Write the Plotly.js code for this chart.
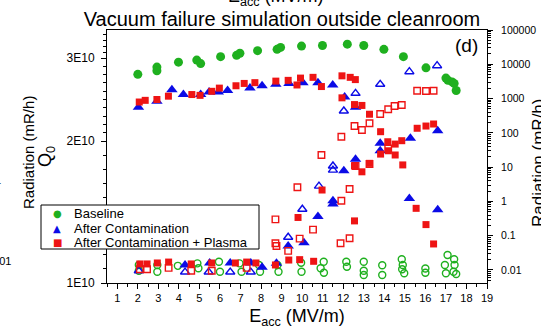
<!DOCTYPE html>
<html>
<head>
<meta charset="utf-8">
<script src="https://cdn.plot.ly/plotly-3.0.1.min.js"></script>
<style>
  html, body { margin: 0; padding: 0; background: #ffffff; }
  #chart { width: 541px; height: 329px; }
</style>
</head>
<body>
<div id="chart"></div>
<script>
// ---- Baseline ----
const baselineQ0E = [2.0, 2.93, 2.93, 3.98, 4.87, 5.06, 6.03, 6.81, 6.97, 7.83, 8.78, 8.95, 9.97, 10.99, 12.2, 13.0, 13.98, 14.93, 16.03, 17.0, 17.1, 17.3, 17.4, 17.5];
const baselineQ0 = [2.77e10, 2.87e10, 2.82e10, 2.94e10, 2.97e10, 2.92e10, 3.02e10, 3.04e10, 3.07e10, 3.11e10, 3.13e10, 3.16e10, 3.18e10, 3.19e10, 3.21e10, 3.19e10, 3.13e10, 3.02e10, 2.86e10, 2.72e10, 2.69e10, 2.67e10, 2.65e10, 2.56e10];
const baselineRadAE = [2.05, 2.95, 3.95, 4.9, 5.95, 6.95, 7.9, 8.8, 9.95, 11.05, 12.15, 13.0, 13.9, 14.85, 14.9, 16.0, 16.95, 17.08, 17.4, 17.42];
const baselineRadA = [0.014, 0.014, 0.0132, 0.0156, 0.0174, 0.0156, 0.014, 0.014, 0.0163, 0.0174, 0.0174, 0.0174, 0.0137, 0.0205, 0.014, 0.011, 0.014, 0.0273, 0.0205, 0.014];
const baselineRadBE = [2.05, 2.95, 4.95, 6.0, 7.05, 7.95, 8.85, 9.97, 10.9, 11.06, 12.18, 13.0, 13.0, 13.9, 14.87, 14.97, 16.0, 17.0, 17.37, 17.5];
const baselineRadB = [0.0095, 0.0089, 0.0112, 0.0089, 0.0089, 0.0089, 0.0089, 0.0089, 0.0112, 0.0083, 0.0124, 0.0095, 0.0071, 0.0071, 0.0105, 0.008, 0.0083, 0.008, 0.0089, 0.0076];

// ---- After Contamination ----
const contamQ0E = [2.03, 2.93, 3.66, 4.22, 5.06, 5.47, 5.92, 6.37, 7.46, 8.05, 8.72, 9.36, 10.04, 10.77, 11.49, 12.07, 12.6, 15.22, 16.6];
const contamQ0 = [2.36e10, 2.43e10, 2.57e10, 2.51e10, 2.51e10, 2.54e10, 2.54e10, 2.56e10, 2.59e10, 2.62e10, 2.64e10, 2.65e10, 2.66e10, 2.66e10, 2.63e10, 2.48e10, 2.36e10, 1.51e10, 1.43e10];
const contamRadAE = [4.3, 5.5, 6.5, 7.5, 8.05, 8.75, 9.32, 10.09, 10.77, 11.5, 11.5, 12.03, 12.6, 13.8, 13.8, 15.27, 16.6];
const contamRadA = [0.014, 0.016, 0.016, 0.016, 0.012, 0.0156, 0.05, 0.062, 0.36, 1.05, 0.84, 7.9, 16.9, 49.5, 30, 69, 115];
const contamRadBE = [2.05, 4.3, 5.45, 6.5, 7.5, 9.32, 10.01, 10.82, 11.5, 11.5, 12.03, 12.6, 13.8, 15.22, 16.57];
const contamRadB = [0.0095, 0.0087, 0.0087, 0.0087, 0.0087, 0.09, 0.59, 2.8, 10.8, 8.2, 434, 1422, 2606, 6080, 9100];

// ---- After Contamination + Plasma ----
const plasmaQ0E = [2.07, 2.36, 2.93, 3.49, 4.63, 5.03, 5.6, 5.97, 6.78, 7.18, 7.7, 8.72, 9.32, 9.75, 9.92, 10.53, 10.94, 11.94, 12.34, 12.59, 11.94, 12.55, 12.91, 13.28, 14.9, 15.55, 16.03, 16.4];
const plasmaQ0 = [2.42e10, 2.44e10, 2.45e10, 2.49e10, 2.51e10, 2.50e10, 2.55e10, 2.59e10, 2.62e10, 2.65e10, 2.66e10, 2.68e10, 2.69e10, 2.63e10, 2.72e10, 2.73e10, 2.61e10, 2.75e10, 2.73e10, 2.70e10, 2.47e10, 2.39e10, 2.38e10, 2.28e10, 1.78e10, 1.44e10, 1.33e10, 1.21e10];
const plasmaRadAE = [2.1, 2.45, 2.95, 3.5, 4.6, 5.6, 6.75, 7.3, 7.75, 8.7, 9.35, 9.88, 10.56, 9.8, 10.97, 12.55, 12.55, 12.91, 13.28, 13.82, 13.82, 14.2, 14.53, 14.17, 14.53, 14.85, 15.6, 16.03, 16.4];
const plasmaRadA = [0.015, 0.015, 0.016, 0.017, 0.015, 0.016, 0.016, 0.017, 0.016, 0.014, 0.0195, 0.02, 0.0179, 0.34, 2.15, 0.27, 11, 7.3, 12.9, 24, 108, 30, 22.6, 55, 47, 59, 136, 158, 181];
const plasmaRadBE = [2.1, 2.45, 3.5, 4.6, 5.6, 7.3, 8.7, 8.75, 8.7, 9.32, 9.77, 9.88, 10.53, 10.94, 11.91, 11.87, 11.91, 12.31, 12.31, 12.55, 12.6, 12.91, 13.28, 13.28, 13.8, 14.19, 14.5, 14.85, 14.19, 15.6, 16.03, 16.4];
const plasmaRadB = [0.0105, 0.0105, 0.0115, 0.0095, 0.0095, 0.0115, 0.30, 0.05, 0.06, 0.036, 2.58, 0.082, 0.15, 22.6, 1.05, 0.06, 77, 2.3, 0.084, 158, 10.8, 121, 190, 12.3, 355, 486, 607, 649, 35, 1695, 1663, 1695];

// ---- Axis labels ----
const xTicks = [1, 2, 3, 4, 5, 6, 7, 8, 9, 10, 11, 12, 13, 14, 15, 16, 17, 18, 19];
const q0Ticks = [1e10, 2e10, 3e10];
const q0TickText = ['1E10', '2E10', '3E10'];
const radTicks = [0.01, 0.1, 1, 10, 100, 1000, 10000, 100000];
const radTickText = ['0.01', '0.1', '1', '10', '100', '1000', '10000', '100000'];
const legendNames = ['Baseline', 'After Contamination', 'After Contamination + Plasma'];

const GREEN = '#1fb01f', BLUE = '#0b0be6', RED = '#ee1414';
const FONT = 'Liberation Sans, Arial, Helvetica, sans-serif';

// Q0 minor ticks: ten even (log-space) steps between labelled values
const q0Minor = [];
const q0Edges = [1e10, 2e10, 3e10, 4e10];
for (let i = 0; i < q0Edges.length - 1; i++) {
  const a = Math.log10(q0Edges[i]), b = Math.log10(q0Edges[i + 1]);
  for (let k = 1; k < 10; k++) q0Minor.push(Math.pow(10, a + (b - a) * k / 10));
}
// Radiation minor ticks: 2..9 in every decade
const radMinor = [];
for (let e = -3; e <= 4; e++) for (let m = 2; m <= 9; m++) radMinor.push(m * Math.pow(10, e));

function pts(x, y, axis, symbol, color, size, open) {
  return {
    type: 'scatter', mode: 'markers', x: x, y: y, yaxis: axis, showlegend: false,
    hoverinfo: 'x+y', cliponaxis: true,
    marker: open
      ? { symbol: symbol, size: size, color: color, line: { color: color, width: 1.4 } }
      : { symbol: symbol, size: size, color: color, line: { width: 0 } }
  };
}

const traces = [
  pts(baselineRadBE, baselineRadB, 'y2', 'circle-open', GREEN, 7, true),
  pts(baselineRadAE, baselineRadA, 'y2', 'circle-open', GREEN, 7, true),
  pts(contamRadBE, contamRadB, 'y2', 'triangle-up-open', BLUE, 8, true),
  pts(contamRadAE, contamRadA, 'y2', 'triangle-up', BLUE, 10, false),
  pts(plasmaRadBE, plasmaRadB, 'y2', 'square-open', RED, 6.5, true),
  pts(plasmaRadAE, plasmaRadA, 'y2', 'square', RED, 7, false),
  pts(baselineQ0E, baselineQ0, 'y', 'circle', GREEN, 9, false),
  pts(contamQ0E, contamQ0, 'y', 'triangle-up', BLUE, 10, false),
  pts(plasmaQ0E, plasmaQ0, 'y', 'square', RED, 7, false)
];

// plot area in pixels: x 107..487, y 30..283
const px = v => (v - 107) / 380;
const py = v => (283 - v) / 253;

const legendRows = [213, 228, 242.5];
const legendSymbols = ['●', '▲', '■'];
const legendColors = [GREEN, BLUE, RED];

function note(text, x, y, size, opts) {
  return Object.assign({ text: text, xref: 'paper', yref: 'paper', x: px(x), y: py(y),
    xanchor: 'center', yanchor: 'middle', showarrow: false,
    font: { family: FONT, size: size, color: '#000' } }, opts || {});
}

const annotations = [
  note('(d)', 466, 45, 19),
  note('E<sub>acc</sub> (MV/m)', 276, 11, 18, { yanchor: 'bottom' }),
  // radiation axis title, running off the right edge of the page
  note('Radiation (mR/h)', 538, 163, 17, { textangle: -90 }),
  note('Radiation (mR/h)', 28, 153, 15, { textangle: -90 }),
  note('0.01', 13, 261, 11, { xanchor: 'right' }),
  note('1', 3, 180, 11, { xanchor: 'right' })
];
legendNames.forEach((name, i) => {
  annotations.push(note(legendSymbols[i], 57, legendRows[i], 10,
    { font: { family: 'DejaVu Sans', size: 10, color: legendColors[i] } }));
  annotations.push(note(name, 72, legendRows[i], 13, { xanchor: 'left' }));
});

const layout = {
  width: 541, height: 329,
  margin: { l: 107, r: 54, t: 30, b: 46, pad: 0 },
  paper_bgcolor: '#ffffff', plot_bgcolor: '#ffffff',
  showlegend: false,
  title: { text: 'Vacuum failure simulation outside cleanroom', x: 282 / 541, xanchor: 'center',
           y: 1 - 19 / 329, yanchor: 'middle', font: { family: FONT, size: 20, color: '#000' } },
  xaxis: {
    range: [0.5, 19], tickmode: 'array', tickvals: xTicks, ticks: 'outside', ticklen: 5,
    tickcolor: '#000', showline: true, linecolor: '#000', linewidth: 1, mirror: true,
    showgrid: false, zeroline: false, tickfont: { family: FONT, size: 11, color: '#000' },
    minor: { dtick: 0.5, ticks: 'outside', ticklen: 3, tickcolor: '#000', showgrid: false },
    title: { text: 'E<sub>acc</sub> (MV/m)', font: { family: FONT, size: 18, color: '#000' }, standoff: 6 }
  },
  yaxis: {
    type: 'log', range: [10, Math.log10(3.44e10)], tickmode: 'array', tickvals: q0Ticks, ticktext: q0TickText,
    ticks: 'outside', ticklen: 5, tickcolor: '#000', showline: true, linecolor: '#000', linewidth: 1,
    showgrid: false, zeroline: false, tickfont: { family: FONT, size: 12, color: '#000' },
    ticklabelstandoff: 4,
    minor: { tickmode: 'array', tickvals: q0Minor, ticks: 'outside', ticklen: 3, tickcolor: '#000', showgrid: false },
    title: { text: 'Q<sub>0</sub>', font: { family: FONT, size: 18, color: '#000' }, standoff: 10 }
  },
  yaxis2: {
    type: 'log', range: [-2.38, 5], overlaying: 'y', side: 'right', tickmode: 'array',
    tickvals: radTicks, ticktext: radTickText, ticks: 'outside', ticklen: 5, tickcolor: '#000',
    showline: true, linecolor: '#000', linewidth: 1, showgrid: false, zeroline: false,
    tickfont: { family: FONT, size: 10.5, color: '#000' }, ticklabelstandoff: 6,
    minor: { tickmode: 'array', tickvals: radMinor, ticks: 'outside', ticklen: 3, tickcolor: '#000', showgrid: false }
  },
  shapes: [
    { type: 'rect', xref: 'paper', yref: 'paper', x0: px(41), x1: px(259), y0: py(249), y1: py(205),
      line: { color: '#000', width: 1 }, fillcolor: '#ffffff', layer: 'above' }
  ],
  annotations: annotations
};

Plotly.newPlot('chart', traces, layout, { displayModeBar: false, staticPlot: true });
</script>
</body>
</html>
